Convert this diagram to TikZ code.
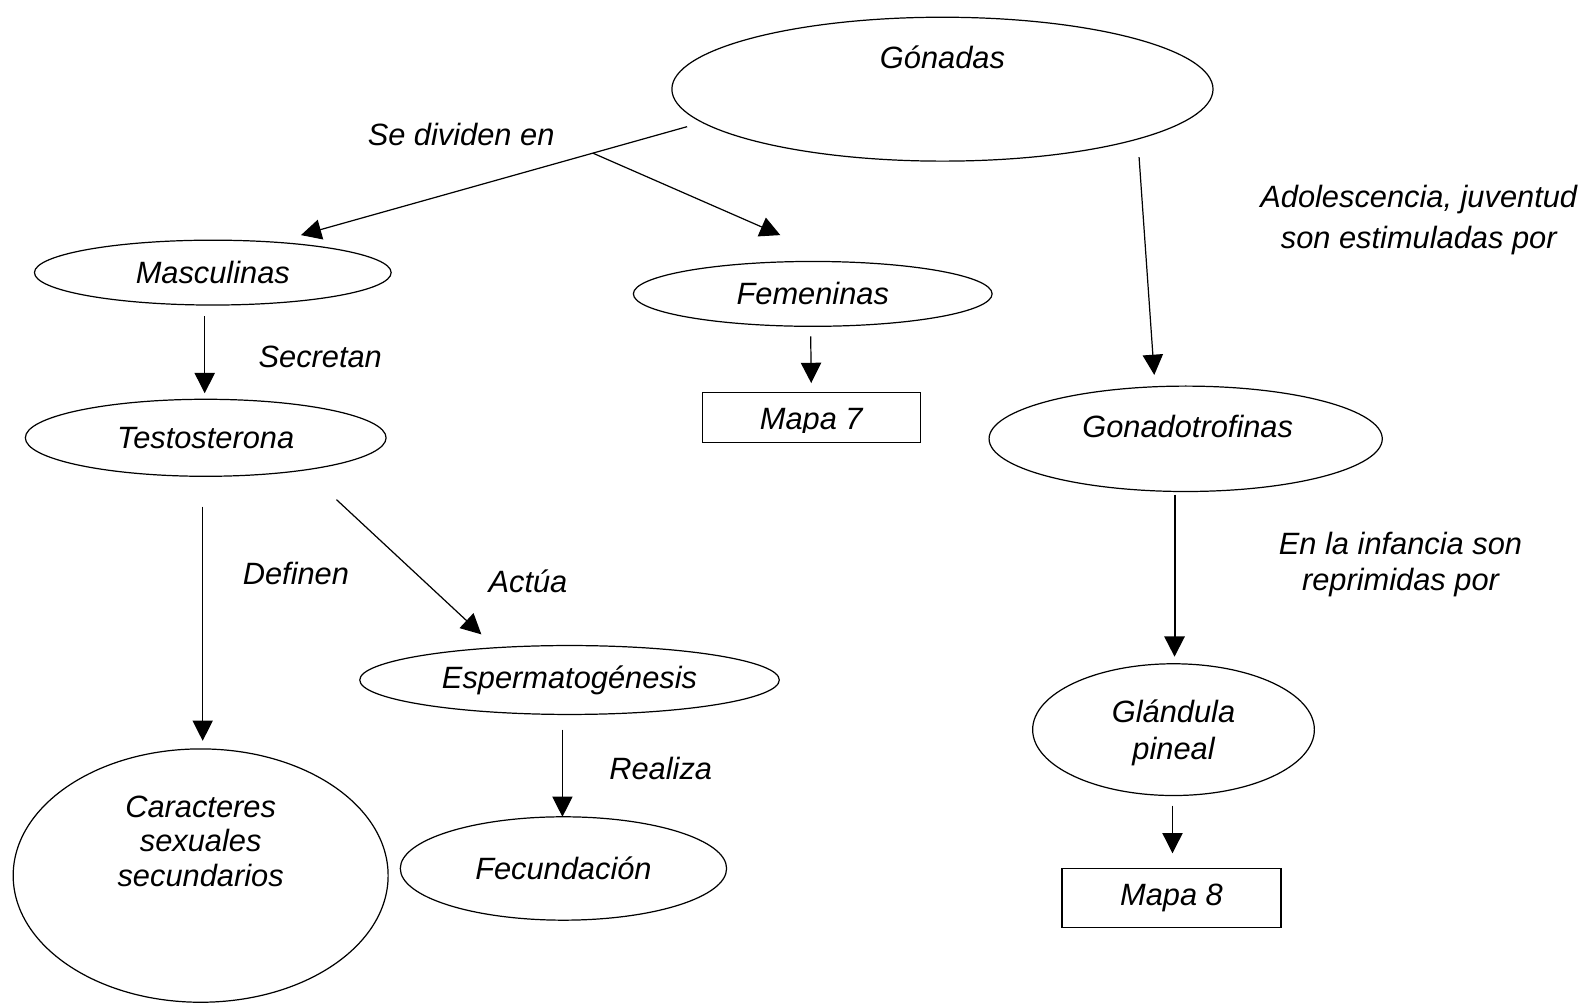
\documentclass[tikz,border=0pt]{standalone}
\usepackage{fontspec}
\setmainfont{Liberation Sans}
\usetikzlibrary{shapes.geometric,arrows.meta,calc}
\begin{document}
\begin{tikzpicture}[x=0.5pt,y=-0.5pt,
  every node/.style={font=\fontsize{15.2}{17}\selectfont\itshape},
  bub/.style={ellipse,draw,line width=0.6pt,inner sep=0pt},
  mapbox/.style={rectangle,draw,line width=0.6pt,inner sep=0pt},
  txt/.style={align=center,inner sep=0pt},
  arr/.style={line width=0.6pt,-{Triangle[length=10pt,width=10pt]}},
  thickarr/.style={line width=1pt,-{Triangle[length=10pt,width=10pt]}}]
\useasboundingbox (0,0) rectangle (1568,990);

% concept ellipses
\node[bub,minimum width=267pt,minimum height=71pt] (gon) at (930,88) {};
\node[txt] (gontxt) at (930,57) {Gónadas};
\node[bub,minimum width=176pt,minimum height=32pt] (masc) at (210,269) {Masculinas};
\node[bub,minimum width=177pt,minimum height=32pt] (fem) at (802,290) {Femeninas};
\node[mapbox,minimum width=107.5pt,minimum height=25pt] (m7) at (800.5,412) {};
\begin{scope}
  % the label frame cuts off the descenders
  \clip (693,387) rectangle (908,427);
  \node[txt] (m7txt) at (800.5,417) {Mapa 7};
\end{scope}
\node[bub,minimum width=178pt,minimum height=38pt] (test) at (203,432) {Testosterona};
\node[bub,minimum width=207pt,minimum height=34pt] (esp) at (562,671) {Espermatogénesis};
\node[bub,minimum width=161pt,minimum height=51pt] (fec) at (556,857) {Fecundación};
\node[bub,minimum width=185pt,minimum height=125pt] (car) at (198,864) {};
\node[txt] (cartxt) at (198,830) {Caracteres\\[0pt]sexuales\\[0pt]secundarios};
\node[bub,minimum width=194pt,minimum height=52pt] (gonad) at (1170,433) {};
\node[txt] (gonadtxt) at (1172,421) {Gonadotrofinas};
\node[bub,minimum width=139pt,minimum height=65pt] (gland) at (1158,720) {};
\node[txt,font=\fontsize{15.2}{18}\selectfont\itshape] (glandtxt) at (1158,723) {Glándula\\pineal};
\node[mapbox,minimum width=108pt,minimum height=29pt] (m8) at (1156,886) {Mapa 8};

% link labels
\node[txt] (l1) at (455,133) {Se dividen en};
\node[txt] (l2) at (316,352) {Secretan};
\node[txt] (l3) at (292,566) {Definen};
\node[txt] (l4) at (521,574) {Actúa};
\node[txt] (l5) at (652,758) {Realiza};
\node[txt,font=\fontsize{15.2}{20}\selectfont\itshape] (l6) at (1400,217) {Adolescencia, juventud\\son estimuladas por};
\node[txt,font=\fontsize{15.2}{17.5}\selectfont\itshape] (l7) at (1382,557) {En la infancia son\\reprimidas por};

% connectors
\coordinate (g1) at ($(gon.center)+(-252,37)$);
\coordinate (mtip) at ($(masc.center)+(87,-37)$);
\draw[arr] (g1) -- (mtip);
\coordinate (split) at ($(g1)!0.244!(mtip)$);
\draw[arr] (split) -- ($(fem.center)+(-32,-58)$);
\draw[arr] ($(fem.center)+(-2,42)$) -- ($(m7.center)+(0,-34)$);
\draw[arr] ($(masc.center)+(-8,43)$) -- ($(test.center)+(-1,-44)$);
\draw[arr] ($(test.center)+(-3,68)$) -- ($(car.center)+(2,-133)$);
\draw[arr] ($(test.center)+(129,61)$) -- ($(esp.center)+(-87,-45)$);
\draw[arr] ($(esp.center)+(-7,49)$) -- ($(fec.center)+(-1,-51)$);
\draw[arr] ($(gon.center)+(194,67)$) -- ($(gonad.center)+(-31,-63)$);
\draw[thickarr] ($(gonad.center)+(-11,55)$) -- ($(gland.center)+(1,-72)$);
\draw[arr] ($(gland.center)+(-1,75)$) -- ($(m8.center)+(1,-44)$);
\end{tikzpicture}
\end{document}
